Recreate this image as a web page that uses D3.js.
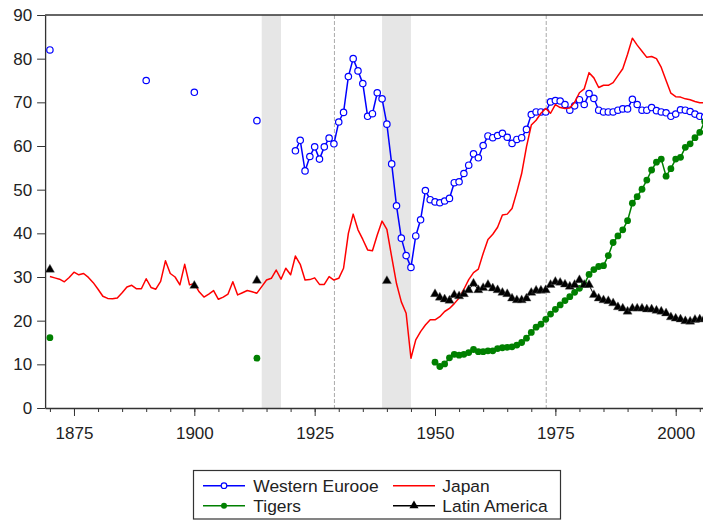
<!DOCTYPE html>
<html><head><meta charset="utf-8">
<script src="https://cdn.jsdelivr.net/npm/d3@7"></script>
<style>
html,body{margin:0;padding:0;background:#fff;}
svg{display:block;font-family:"Liberation Sans",Arial,sans-serif;}
</style></head>
<body>
<svg id="chart" width="703" height="523"></svg>
<script>
// ---- data ----
const seriesNames = ["Western Eurooe", "Japan", "Tigers", "Latin America"];
const bands = [[1914, 1918], [1939, 1945]];
const dashedYears = [1929, 1973];
const yTicks = [0, 10, 20, 30, 40, 50, 60, 70, 80, 90];
const xMinorTicks = d3.range(1870, 2006, 5);
const xLabelTicks = [1875, 1900, 1925, 1950, 1975, 2000];

// Western Europe: isolated benchmark years, then annual 1921-2006
const weIsoYears = [1870, 1890, 1900, 1913];
const weIsoValues = [82.0, 75.0, 72.3, 65.8];
const weStart = 1921;
const weValues = [58.9, 61.3, 54.3, 57.6, 59.8, 57.0, 59.8, 61.8, 60.5, 65.5,
  67.7, 75.9, 80.0, 77.2, 74.3, 66.8, 67.4, 72.2, 70.8, 65.0,
  55.9, 46.3, 38.9, 34.9, 32.2, 39.4, 43.1, 49.8, 47.7, 47.2,
  47.0, 47.4, 48.0, 51.6, 51.8, 53.7, 55.6, 58.2, 57.3, 60.1,
  62.3, 61.9, 62.4, 62.9, 62.0, 60.6, 61.5, 61.9, 63.8, 67.2,
  67.8, 67.8, 67.8, 70.1, 70.4, 70.3, 69.5, 68.2, 69.2, 70.6,
  69.5, 72.0, 70.9, 68.2, 67.8, 67.8, 67.8, 68.2, 68.5, 68.5,
  70.7, 69.5, 68.2, 68.2, 68.8, 68.1, 67.8, 67.6, 66.8, 67.3,
  68.3, 68.2, 67.9, 67.3, 66.8, 66.6];

// Japan: annual 1870-2006
const jpStart = 1870;
const jpValues = [30.1, 29.8, 29.5, 28.9, 29.9, 31.1, 30.5, 30.8, 29.9, 28.7,
  27.2, 25.6, 25.1, 25.0, 25.2, 26.4, 27.7, 28.1, 27.3, 27.3,
  29.6, 27.6, 27.2, 29.0, 33.7, 30.8, 30.0, 28.2, 32.9, 28.2,
  28.5, 26.6, 25.4, 26.1, 26.9, 24.9, 25.4, 26.1, 28.9, 25.9,
  26.4, 26.9, 26.6, 26.3, 27.8, 29.3, 29.7, 31.6, 29.5, 32.0,
  30.5, 34.8, 32.9, 29.3, 29.4, 29.8, 28.3, 28.3, 30.1, 29.3,
  29.7, 32.0, 40.0, 44.4, 40.8, 38.6, 36.2, 36.0, 39.6, 42.8,
  40.9, 34.6, 28.5, 24.3, 21.7, 11.4, 15.6, 17.5, 19.0, 20.2,
  20.2, 20.9, 22.1, 22.8, 23.9, 25.2, 27.2, 29.4, 31.0, 31.8,
  35.4, 38.6, 39.8, 41.4, 44.2, 44.4, 45.7, 49.5, 53.7, 59.8,
  64.8, 65.9, 67.5, 68.6, 67.5, 69.5, 68.8, 68.6, 68.7, 70.0,
  72.2, 73.1, 76.8, 75.6, 73.4, 73.9, 73.9, 74.5, 76.1, 77.7,
  81.0, 84.7, 83.1, 81.7, 80.3, 80.5, 80.0, 78.0, 75.0, 72.1,
  71.3, 71.2, 70.8, 70.6, 70.2, 69.9, 69.9];

// Tigers: isolated benchmark years, then annual 1950-2006
const tgIsoYears = [1870, 1913];
const tgIsoValues = [16.1, 11.4];
const tgStart = 1950;
const tgValues = [10.5, 9.5, 10.1, 11.5, 12.3, 12.1, 12.3, 12.7, 13.4, 12.9,
  12.9, 13.1, 13.1, 13.6, 13.8, 13.9, 14.0, 14.4, 15.0, 16.0,
  17.3, 18.5, 19.2, 20.3, 21.5, 22.6, 23.6, 24.6, 25.5, 26.5,
  27.4, 28.3, 30.6, 31.7, 32.4, 32.6, 34.9, 37.9, 39.4, 40.8,
  42.9, 46.9, 48.4, 50.1, 52.2, 54.5, 56.3, 57.0, 53.1, 54.8,
  57.0, 57.4, 59.7, 60.5, 61.9, 63.1, 65.6];

// Latin America: isolated benchmark years, then annual 1950-2006
const laIsoYears = [1870, 1900, 1913, 1940];
const laIsoValues = [31.7, 28.0, 29.2, 29.1];
const laStart = 1950;
const laValues = [26.1, 25.3, 24.9, 24.6, 25.9, 25.6, 26.1, 27.0, 28.5, 27.0,
  27.5, 28.2, 27.4, 27.0, 26.4, 26.1, 25.1, 24.7, 24.7, 25.1,
  26.4, 26.9, 26.9, 27.0, 28.2, 28.9, 28.7, 28.3, 27.8, 28.2,
  29.3, 28.2, 28.2, 25.9, 25.1, 24.7, 24.5, 24.0, 23.1, 22.8,
  22.1, 22.8, 22.8, 22.8, 22.6, 22.6, 22.3, 22.1, 21.7, 20.8,
  20.5, 20.3, 19.9, 19.8, 20.2, 20.3, 20.5];

// ---- build ----
const toPts = (start, vals) => vals.map((v, i) => ({year: start + i, v}));
const toIso = (yrs, vals) => yrs.map((yr, i) => ({year: yr, v: vals[i]}));

const svg = d3.select("#chart");
const x = d3.scaleLinear().domain([1869, 2007]).range([45.1, 709.4]);
const y = d3.scaleLinear().domain([0, 90]).range([408, 15]);
const FONT = 17;
const AX = "#333";

// shaded bands
svg.append("g").selectAll("rect").data(bands).join("rect")
  .attr("x", d => x(d[0])).attr("width", d => x(d[1]) - x(d[0]))
  .attr("y", y(90)).attr("height", y(0) - y(90))
  .attr("fill", "#e6e6e6");

// dashed verticals
svg.append("g").selectAll("line").data(dashedYears).join("line")
  .attr("x1", d => x(d) + 0.5).attr("x2", d => x(d) + 0.5)
  .attr("y1", y(90)).attr("y2", y(0))
  .attr("stroke", "#aaa").attr("stroke-width", 1).attr("stroke-dasharray", "4,2");

// axes
const yAxis = svg.append("g").attr("transform", `translate(${x(1869)},0)`)
  .call(d3.axisLeft(y).tickValues(yTicks).tickSize(8).tickPadding(5).tickSizeOuter(0).tickFormat(d3.format("d")));
yAxis.select(".domain").attr("stroke", AX).attr("stroke-width", 1.3);
yAxis.selectAll(".tick line").attr("stroke", AX);
yAxis.selectAll("text").attr("font-size", FONT).attr("fill", "#222")
  .attr("font-family", "Liberation Sans, Arial, sans-serif");

const xAxisMinor = svg.append("g").attr("transform", `translate(0,${y(0)})`)
  .call(d3.axisBottom(x).tickValues(xMinorTicks).tickSize(4).tickSizeOuter(0).tickFormat(""));
xAxisMinor.select(".domain").attr("stroke", AX).attr("stroke-width", 1.3);
xAxisMinor.selectAll(".tick line").attr("stroke", AX);

const xAxisMajor = svg.append("g").attr("transform", `translate(0,${y(0)})`)
  .call(d3.axisBottom(x).tickValues(xLabelTicks).tickSize(8).tickPadding(11).tickSizeOuter(0).tickFormat(d3.format("d")));
xAxisMajor.select(".domain").remove();
xAxisMajor.selectAll(".tick line").attr("stroke", AX);
xAxisMajor.selectAll("text").attr("font-size", FONT).attr("fill", "#222")
  .attr("font-family", "Liberation Sans, Arial, sans-serif");

// top frame
svg.append("line").attr("x1", x(1869)).attr("x2", 703).attr("y1", y(90)).attr("y2", y(90))
  .attr("stroke", AX).attr("stroke-width", 1.3);

const line = d3.line().x(d => x(d.year)).y(d => y(d.v));

// Western Europe
const weC = "#0000ff";
const we = toPts(weStart, weValues);
svg.append("path").datum(we).attr("d", line).attr("fill", "none").attr("stroke", weC).attr("stroke-width", 1.5);
svg.append("g").selectAll("circle").data(we.concat(toIso(weIsoYears, weIsoValues))).join("circle")
  .attr("cx", d => x(d.year)).attr("cy", d => y(d.v)).attr("r", 3.2)
  .attr("fill", "#fff").attr("stroke", weC).attr("stroke-width", 1.2);

// Japan
const jpC = "#ff0000";
svg.append("path").datum(toPts(jpStart, jpValues)).attr("d", line).attr("fill", "none")
  .attr("stroke", jpC).attr("stroke-width", 1.5).attr("stroke-linejoin", "round");

// Tigers
const tgC = "#008000";
const tg = toPts(tgStart, tgValues);
svg.append("path").datum(tg).attr("d", line).attr("fill", "none").attr("stroke", tgC).attr("stroke-width", 1.5);
svg.append("g").selectAll("circle").data(tg.concat(toIso(tgIsoYears, tgIsoValues))).join("circle")
  .attr("cx", d => x(d.year)).attr("cy", d => y(d.v)).attr("r", 3.4)
  .attr("fill", tgC);

// Latin America
const laC = "#000";
const la = toPts(laStart, laValues);
svg.append("path").datum(la).attr("d", line).attr("fill", "none").attr("stroke", laC).attr("stroke-width", 1);
const tri = d3.symbol().type(d3.symbolTriangle).size(36);
svg.append("g").selectAll("path").data(la.concat(toIso(laIsoYears, laIsoValues))).join("path")
  .attr("d", tri).attr("transform", d => `translate(${x(d.year)},${y(d.v)})`)
  .attr("fill", laC).attr("stroke", "#555").attr("stroke-width", 0.4);

// legend
const lg = svg.append("g");
lg.append("rect").attr("x", 193.5).attr("y", 470.5).attr("width", 367).attr("height", 48.5)
  .attr("fill", "#fff").attr("stroke", AX).attr("stroke-width", 1.2);
const legendItems = [
  {name: seriesNames[0], color: weC, mark: "open", lx: 203, ly: 485.7, tx: 253.3},
  {name: seriesNames[1], color: jpC, mark: "none", lx: 393, ly: 485.7, tx: 442.3},
  {name: seriesNames[2], color: tgC, mark: "dot", lx: 203, ly: 505.7, tx: 253.3},
  {name: seriesNames[3], color: laC, mark: "tri", lx: 393, ly: 505.7, tx: 442.3}
];
legendItems.forEach(it => {
  lg.append("line").attr("x1", it.lx).attr("x2", it.lx + 42).attr("y1", it.ly).attr("y2", it.ly)
    .attr("stroke", it.color).attr("stroke-width", 1.5);
  const cx = it.lx + 21;
  if (it.mark === "open") lg.append("circle").attr("cx", cx).attr("cy", it.ly).attr("r", 2.8)
    .attr("fill", "#fff").attr("stroke", it.color).attr("stroke-width", 1.2);
  if (it.mark === "dot") lg.append("circle").attr("cx", cx).attr("cy", it.ly).attr("r", 3).attr("fill", it.color);
  if (it.mark === "tri") lg.append("path").attr("d", tri).attr("transform", `translate(${cx},${it.ly})`).attr("fill", it.color);
  lg.append("text").attr("x", it.tx).attr("y", it.ly).attr("dy", "0.35em")
    .attr("font-size", 17.4).attr("fill", "#222").text(it.name);
});
</script>
</body></html>
